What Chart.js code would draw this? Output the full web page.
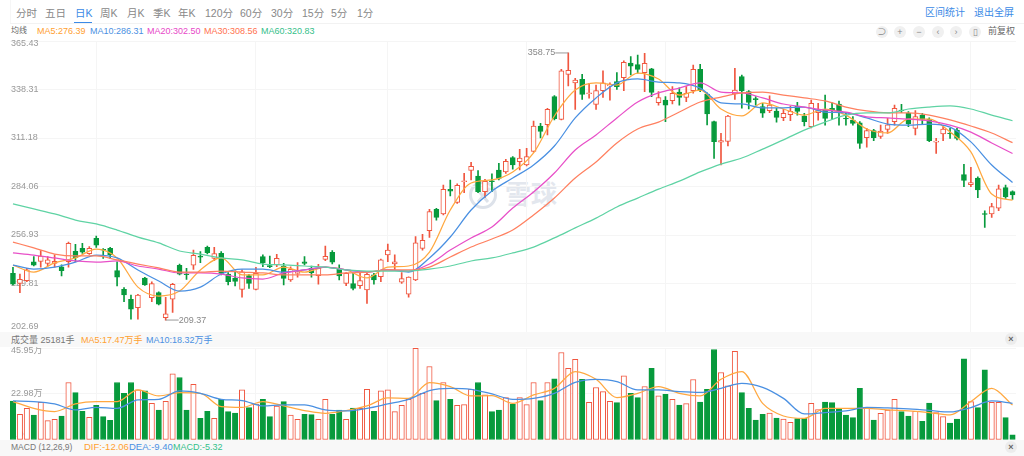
<!DOCTYPE html>
<html>
<head>
<meta charset="utf-8">
<script src="https://cdn.jsdelivr.net/npm/chart.js@4/dist/chart.umd.min.js"></script>
<style>
    html, body { margin: 0; padding: 0; background: #fff; }
    #page {
        position: relative;
        width: 1024px;
        height: 456px;
        overflow: hidden;
        font-family: 'Liberation Sans', 'Noto Sans CJK SC', sans-serif;
        font-size: 9px;
        color: #888;
    }
    #page span, #page div, #page canvas { position: absolute; }
    #page span { white-space: nowrap; line-height: 12px; }
    .tab { top: 7px; font-size: 10.5px; color: #888; }
    .link { top: 7px; font-size: 10px; color: #3b8ae6; }
    .row { top: 25px; }
    .strip { left: 0; width: 1024px; height: 15px; background: #f8f8f8; }
    .tool {
        top: 26px;
        width: 12px;
        height: 12px;
        border-radius: 6px;
        background: #f0f0f0;
        color: #888;
        text-align: center;
        font-size: 9px;
    }
    .close { left: 1005px; color: #666; background: #ececec; font-weight: bold; }
    #mark { left: 505px; top: 182px; font-size: 26px; line-height: 26px !important; font-weight: bold; color: #e3e7ee; }
    #logo { left: 468px; top: 180px; }
</style>
</head>
<body>
<div id="page">
    <span class="tab" style="left:16px">分时</span>
    <span class="tab" style="left:45px">五日</span>
    <span class="tab" style="left:75px;color:#3b8ae6">日K</span>
    <span class="tab" style="left:100px">周K</span>
    <span class="tab" style="left:127px">月K</span>
    <span class="tab" style="left:153px">季K</span>
    <span class="tab" style="left:178px">年K</span>
    <span class="tab" style="left:205px">120分</span>
    <span class="tab" style="left:240px">60分</span>
    <span class="tab" style="left:271px">30分</span>
    <span class="tab" style="left:302px">15分</span>
    <span class="tab" style="left:331px">5分</span>
    <span class="tab" style="left:357px">1分</span>
    <span class="link" style="left:925px">区间统计</span>
    <span class="link" style="left:974px">退出全屏</span>
    <div style="left:74px;top:22px;width:18px;height:1px;background:#3b8ae6"></div>
    <div style="left:10px;top:23px;width:1014px;height:1px;background:#f2f2f2"></div>
    <div style="left:10px;top:0;width:1px;height:23px;background:#f6f6f6"></div>

    <span class="row" style="left:11px;font-size:8px;color:#666">均线</span>
    <span class="row" style="left:37px;color:#ffa030">MA5:276.39</span>
    <span class="row" style="left:90px;color:#4a90e2">MA10:286.31</span>
    <span class="row" style="left:147px;color:#e748c8">MA20:302.50</span>
    <span class="row" style="left:204px;color:#ff7350">MA30:308.56</span>
    <span class="row" style="left:261px;color:#35c08a">MA60:320.83</span>

    <span class="tool" style="left:876px">⊃</span>
    <span class="tool" style="left:894px">+</span>
    <span class="tool" style="left:913px">−</span>
    <span class="tool" style="left:932px">‹</span>
    <span class="tool" style="left:950px">›</span>
    <span class="tool" style="left:969px">▯</span>
    <span class="row" style="left:988px;color:#666">前复权</span>

    <svg id="logo" style="position:absolute" width="32" height="32" viewBox="0 0 32 32">
        <circle cx="15" cy="15" r="12.5" fill="none" stroke="#dde2ea" stroke-width="3"/>
        <path d="M8 8 L20 22 M22 8 L10 22" fill="none" stroke="#dde2ea" stroke-width="3"/>
    </svg>
    <span id="mark">雪球</span>

    <canvas id="candles" width="1024" height="300" style="left:0;top:36px"></canvas>
    <canvas id="volumes" width="1024" height="101" style="left:0;top:343px"></canvas>

    <div class="strip" style="top:332px"></div>
    <span style="left:11px;top:334px;color:#777">成交量 25181手</span>
    <span style="left:81px;top:334px;color:#ffa030">MA5:17.47万手</span>
    <span style="left:146px;top:334px;color:#4a90e2">MA10:18.32万手</span>
    <span class="tool close" style="top:333px">×</span>

    <div class="strip" style="top:440px;height:16px"></div>
    <span style="left:11px;top:441px;color:#777;font-size:8.5px">MACD (12,26,9)</span>
    <span style="left:84px;top:441px;color:#ffa030;font-size:9.5px">DIF:-12.06</span>
    <span style="left:129px;top:441px;color:#4a90e2;font-size:9.5px">DEA:-9.40</span>
    <span style="left:173px;top:441px;color:#35c08a">MACD:-5.32</span>
    <span class="tool close" style="top:441px">×</span>
</div>

<script>
    const opens = [
        235.5, 229.9, 231.4, 242.0, 242.2, 241.1, 241.1, 239.2, 242.0, 247.8, 249.5, 246.5, 255.1, 248.9, 249.5,
        237.0, 226.5, 221.0, 216.3, 232.9, 221.9, 224.7, 210.7, 221.0, 240.0, 235.1, 240.0, 245.2, 250.0, 243.9,
        246.7, 235.1, 232.9, 226.5, 234.2, 226.5, 244.8, 239.8, 240.2, 239.6, 231.8, 235.5, 242.0, 238.3, 234.2,
        243.3, 247.2, 237.7, 229.9, 229.7, 228.6, 226.2, 234.6, 233.6, 245.8, 240.7, 230.5, 223.9, 231.8, 249.5,
        259.4, 271.3, 268.7, 282.5, 275.2, 286.8, 293.1, 289.9, 281.2, 287.3, 293.3, 292.2, 300.2, 297.9, 296.1,
        303.7, 317.9, 318.6, 334.3, 321.6, 346.8, 342.0, 344.0, 336.0, 330.0, 337.7, 340.3, 342.7, 344.9, 353.1,
        352.2, 347.7, 349.8, 331.0, 332.4, 332.1, 336.9, 333.9, 337.7, 349.6, 335.8, 320.3, 308.8, 309.3, 335.8,
        345.5, 337.1, 333.2, 328.7, 326.5, 326.3, 322.5, 324.2, 329.1, 323.5, 317.5, 325.3, 326.8, 327.8, 330.2,
        322.2, 321.2, 319.7, 311.4, 315.3, 312.1, 316.0, 320.3, 326.8, 325.0, 316.6, 324.0, 321.8, 308.9, 313.4,
        314.0, 315.6, 290.7, 285.1, 288.8, 268.9, 268.7, 272.0, 283.4, 281.2,
    ]
    const highs = [
        238.9, 235.1, 238.3, 244.8, 248.2, 244.8, 245.8, 240.2, 253.0, 251.7, 252.3, 250.4, 256.4, 249.3, 250.0,
        242.0, 227.5, 223.4, 223.7, 233.3, 230.8, 225.2, 222.1, 229.9, 240.7, 238.3, 248.5, 247.6, 250.8, 250.0,
        247.6, 235.9, 236.4, 237.4, 234.9, 238.9, 245.8, 245.2, 246.1, 241.1, 239.2, 241.5, 244.8, 239.6, 240.5,
        250.8, 248.2, 240.2, 235.9, 235.5, 235.5, 235.5, 235.5, 243.5, 251.9, 245.8, 235.9, 233.6, 256.0, 257.3,
        271.3, 271.9, 284.9, 287.7, 285.5, 291.4, 297.6, 292.9, 288.1, 291.1, 297.0, 299.3, 300.8, 304.9, 305.4,
        320.7, 319.4, 327.8, 334.9, 349.6, 358.75, 344.6, 346.8, 341.8, 340.8, 348.7, 342.1, 347.7, 354.4, 356.7,
        357.6, 358.5, 350.2, 337.1, 334.3, 339.9, 339.3, 339.9, 352.0, 352.4, 336.5, 320.7, 313.8, 323.9, 350.2,
        346.4, 337.7, 334.3, 330.6, 334.7, 327.8, 327.2, 329.1, 331.1, 325.0, 332.4, 330.6, 335.2, 330.9, 331.9,
        325.3, 323.1, 320.3, 316.6, 316.0, 318.4, 322.2, 329.6, 330.0, 325.9, 326.5, 325.0, 322.5, 311.0, 317.5,
        316.6, 316.6, 296.4, 294.8, 289.5, 270.5, 274.6, 284.9, 284.9, 281.7,
    ]
    const lows = [
        229.0, 224.7, 230.8, 239.6, 238.9, 239.6, 238.9, 234.0, 238.9, 242.0, 246.7, 246.1, 250.0, 243.9, 243.9,
        228.4, 219.6, 209.8, 209.8, 228.8, 219.6, 217.8, 209.37, 213.7, 234.6, 232.1, 237.7, 241.5, 246.3, 242.6,
        234.6, 229.0, 228.4, 222.1, 227.1, 226.2, 239.2, 238.7, 239.2, 229.0, 231.0, 233.3, 240.2, 233.3, 229.5,
        242.6, 240.7, 231.8, 228.6, 226.2, 227.1, 218.7, 229.5, 230.8, 242.0, 237.4, 229.9, 222.1, 231.4, 248.5,
        255.6, 265.3, 268.1, 278.8, 274.6, 280.6, 287.7, 280.6, 278.0, 281.2, 287.7, 291.4, 293.7, 293.3, 295.5,
        303.2, 311.2, 312.9, 321.3, 321.3, 340.3, 327.2, 332.8, 333.4, 327.2, 333.9, 332.4, 338.4, 337.7, 346.4,
        347.4, 337.1, 334.3, 329.6, 320.3, 330.2, 329.6, 331.5, 336.2, 337.1, 318.5, 299.8, 296.1, 306.7, 332.8,
        327.8, 327.4, 329.6, 322.7, 325.4, 320.0, 320.9, 320.9, 324.0, 317.9, 316.8, 321.2, 318.4, 321.6, 318.4,
        318.4, 318.4, 305.4, 306.0, 309.7, 311.0, 313.8, 318.4, 325.3, 317.5, 312.9, 319.0, 309.1, 302.6, 309.7,
        311.0, 310.1, 284.0, 284.0, 277.8, 261.2, 266.8, 270.5, 277.4, 276.9,
    ]
    const closes = [
        229.5, 232.1, 237.4, 240.0, 245.2, 243.0, 242.2, 237.0, 252.3, 244.3, 247.4, 249.5, 251.3, 248.5, 245.8,
        233.3, 223.4, 215.4, 223.4, 229.0, 229.7, 218.3, 212.8, 229.3, 235.1, 234.8, 245.6, 244.6, 247.1, 246.5,
        235.5, 230.8, 231.0, 236.4, 229.9, 235.5, 241.5, 239.2, 243.9, 232.7, 237.7, 236.1, 241.1, 235.9, 238.3,
        245.0, 241.7, 234.0, 235.5, 227.1, 231.4, 234.9, 231.8, 243.0, 248.5, 242.0, 232.5, 233.4, 252.6, 254.0,
        270.0, 266.8, 282.5, 281.5, 284.7, 287.3, 295.3, 281.2, 287.0, 286.8, 288.6, 298.1, 296.1, 300.0, 300.8,
        317.9, 314.9, 327.2, 322.0, 348.8, 349.0, 343.6, 335.6, 336.5, 337.7, 342.1, 341.0, 339.9, 353.5, 351.3,
        349.6, 353.0, 336.7, 333.8, 329.6, 336.2, 333.9, 336.2, 349.6, 338.0, 324.6, 309.1, 309.7, 323.5, 338.0,
        337.5, 331.1, 332.6, 325.0, 329.6, 322.7, 325.0, 326.1, 326.1, 320.3, 330.6, 327.0, 322.2, 327.0, 325.9,
        321.8, 319.4, 308.2, 315.3, 311.4, 315.1, 318.6, 327.8, 326.5, 319.0, 323.1, 321.6, 309.7, 309.5, 316.2,
        313.6, 311.0, 287.5, 286.2, 282.1, 268.5, 272.8, 282.8, 278.2, 279.3,
    ]
    // volume in 万手
    const volumes = [
        19.5, 12.8, 15.8, 12.5, 18.8, 9.7, 10.3, 12.0, 28.7, 23.7, 14.3, 11.3, 17.3, 11.7, 9.8,
        28.7, 23.3, 28.7, 25.0, 24.5, 18.3, 15.0, 19.3, 33.0, 31.2, 15.0, 27.8, 10.8, 14.3, 10.8,
        20.3, 14.2, 13.5, 25.0, 16.2, 18.0, 20.3, 11.7, 17.0, 19.2, 12.5, 10.3, 12.8, 12.7, 10.3,
        20.3, 12.8, 15.0, 10.3, 16.0, 15.8, 25.3, 14.3, 24.5, 25.0, 14.2, 17.3, 20.3, 45.8, 23.3,
        36.7, 19.7, 28.7, 20.3, 17.3, 17.7, 25.3, 28.7, 22.5, 14.2, 15.0, 21.2, 17.8, 21.2, 17.7,
        28.7, 19.7, 28.7, 30.5, 43.7, 35.8, 40.3, 30.3, 18.8, 26.2, 24.2, 19.3, 18.7, 32.0, 23.3,
        21.2, 26.7, 35.8, 22.0, 22.8, 20.3, 17.5, 18.2, 30.2, 19.0, 25.3, 45.2, 33.7, 27.0, 44.3,
        23.7, 15.8, 10.0, 12.8, 13.5, 11.0, 10.5, 8.8, 10.7, 10.8, 18.3, 15.2, 19.0, 18.7, 15.7,
        12.5, 11.2, 25.8, 16.3, 10.0, 13.3, 15.0, 20.3, 14.2, 12.0, 14.3, 9.3, 18.5, 13.7, 11.7,
        8.5, 10.5, 40.5, 19.2, 16.2, 35.0, 18.8, 18.8, 11.2, 2.52,
    ]

    const maStep = 3
    const ma5 = [
        240.1, 236.2, 241.3, 244.1, 249.1, 244.1, 227.8, 222.8, 225.6, 237.4, 244.1, 234.6, 234.6, 239.0, 236.2, 239.0, 237.4,
        232.9, 239.0, 239.6, 247.4, 270.9, 286.0, 287.7, 292.2, 302.8, 323.5, 338.0, 342.0, 340.8, 347.5, 344.2, 335.2,
        338.0, 327.4, 323.5, 330.8, 327.4, 324.0, 327.4, 324.0, 316.2, 314.0, 321.8, 321.8, 314.5, 303.4, 279.9, 276.39,
    ]
    const ma10 = [
        240.1, 237.9, 239.0, 241.8, 245.7, 244.1, 237.4, 231.2, 225.6, 227.8, 235.1, 237.9, 237.9, 236.2, 237.4, 239.0, 237.4,
        236.2, 237.4, 236.2, 244.1, 255.8, 270.9, 281.5, 288.8, 296.1, 306.7, 322.4, 333.6, 342.0, 344.2, 342.5, 342.0,
        339.1, 330.8, 330.2, 328.0, 328.0, 328.5, 325.7, 325.2, 322.4, 319.0, 318.4, 319.0, 317.3, 309.0, 296.1, 286.31,
    ]
    const ma20 = [
        246.9, 245.7, 244.1, 242.4, 241.8, 242.4, 239.6, 237.9, 235.7, 235.7, 235.1, 232.9, 232.3, 235.7, 237.4, 239.0, 237.4,
        236.2, 237.4, 236.8, 240.7, 248.5, 255.3, 261.4, 272.0, 281.0, 291.6, 304.5, 312.9, 322.4, 331.3, 336.4, 339.1,
        342.0, 336.9, 336.4, 333.6, 330.2, 328.5, 326.8, 325.7, 323.0, 322.4, 321.8, 320.7, 318.4, 314.5, 308.4, 302.50,
    ]
    const ma30 = [
        253.0, 249.7, 246.3, 245.2, 245.2, 243.0, 240.7, 238.5, 236.2, 236.2, 236.8, 236.2, 235.7, 234.6, 234.6, 234.6, 235.7,
        236.2, 237.4, 237.4, 239.0, 244.6, 250.2, 254.7, 259.7, 268.1, 277.6, 288.8, 297.8, 308.4, 316.2, 320.1, 325.7,
        331.3, 334.1, 336.4, 336.9, 335.2, 333.6, 331.9, 328.5, 326.3, 325.2, 325.2, 324.0, 321.3, 317.9, 314.0, 308.56,
    ]
    const ma60 = [
        274.3, 271.5, 268.7, 265.3, 263.1, 259.7, 255.8, 252.5, 248.0, 246.3, 244.1, 243.0, 240.7, 240.2, 239.6, 239.0, 237.4,
        236.8, 236.8, 236.8, 237.9, 239.6, 242.4, 244.1, 246.9, 250.2, 255.3, 260.9, 266.4, 272.6, 277.6, 282.6, 287.1,
        292.2, 296.6, 300.0, 305.0, 310.1, 315.6, 320.1, 324.0, 325.2, 325.2, 327.4, 328.5, 329.1, 327.4, 324.0, 320.83,
    ]
    const volMa5 = [
        19.2, 15.8, 14.2, 18.0, 19.2, 19.2, 25.0, 22.0, 23.7, 23.3, 16.7, 16.3, 19.2, 17.0, 14.7, 13.3, 14.7,
        17.0, 21.0, 20.8, 28.7, 26.7, 22.0, 22.2, 18.3, 22.5, 25.8, 34.2, 30.3, 21.2, 23.3, 26.7, 23.3,
        22.0, 30.3, 34.2, 18.3, 12.0, 10.8, 15.8, 15.8, 15.8, 15.0, 14.5, 13.7, 12.5, 19.2, 25.8, 17.47,
    ]
    const volMa10 = [
        19.5, 19.2, 18.0, 15.0, 16.3, 15.8, 20.0, 20.3, 24.5, 23.3, 20.3, 19.7, 17.0, 17.5, 17.5, 15.0, 14.5,
        15.8, 18.0, 20.3, 24.7, 25.8, 25.3, 23.0, 20.3, 20.8, 23.3, 28.8, 30.3, 29.2, 25.0, 25.0, 24.2,
        23.8, 25.8, 28.3, 26.3, 20.8, 13.0, 13.7, 14.5, 16.3, 16.0, 15.5, 14.8, 14.0, 16.2, 19.5, 18.32,
    ]

    const priceTicks = [365.43, 338.31, 311.18, 284.06, 256.93, 229.81, 202.69]
    const volumeTicks = [45.95, 22.98, 0]
    const volumeTickLabels = ['45.95万', '22.98万', '0.00']
    const monthStarts = [12, 35, 54, 74, 94, 115, 138]
    const highMark = { index: 80, value: 358.75, side: -1 }
    const lowMark = { index: 22, value: 209.37, side: 1 }

    const days = opens.map((_, i) => String(i))
    const isUp = closes.map((c, i) => c >= opens[i])

    const RED = '#f0563f'
    const GREEN = '#079a3c'
    const GRID = '#f5f5f5'
    const LABEL = '#999'

    const sampled = series => series.map((v, k) => ({ x: days[k * maStep], y: v }))
    const lineSet = (label, series, color) => ({
        type: 'line',
        label,
        data: sampled(series),
        borderColor: color,
        borderWidth: 1.25,
        pointRadius: 0,
        cubicInterpolationMode: 'monotone',
        order: 1,
    })

    const tickText = (ctx, scale, ticks, texts) => {
        ctx.save()
        ctx.font = "9px 'Liberation Sans', 'Noto Sans CJK SC', sans-serif"
        ctx.fillStyle = LABEL
        ctx.textBaseline = 'middle'
        ticks.forEach((tick, i) => {
            // first and last labels sit inside the plot
            const nudge = i === 0 ? 3 : i === ticks.length - 1 ? -5 : 0
            ctx.fillText(texts[i], 11, scale.getPixelForValue(tick) + nudge)
        })
        ctx.restore()
    }

    const scalesFor = (min, max, ticks) => ({
        x: {
            type: 'category',
            offset: true,
            afterFit: scale => { scale.height = 0 },
            grid: {
                offset: false,
                drawTicks: false,
                color: c => monthStarts.includes(c.index) ? GRID : 'transparent',
            },
            border: { display: false },
            ticks: { display: false, autoSkip: false },
        },
        y: {
            min,
            max,
            afterFit: scale => { scale.width = 0 },
            afterBuildTicks: scale => { scale.ticks = ticks.map(value => ({ value })) },
            grid: { drawTicks: false, color: GRID },
            border: { display: false },
            ticks: { display: false },
        },
    })

    const baseOptions = {
        responsive: false,
        animation: false,
        devicePixelRatio: 1,
        plugins: { legend: { display: false }, tooltip: { enabled: false } },
    }

    const extremeMark = (chart, mark) => {
        const { ctx, scales } = chart
        const x = scales.x.getPixelForValue(mark.index)
        const y = scales.y.getPixelForValue(mark.value)
        const end = x + mark.side * 13
        ctx.save()
        ctx.strokeStyle = LABEL
        ctx.lineWidth = 1
        ctx.beginPath()
        ctx.moveTo(x, y)
        ctx.lineTo(end, y)
        ctx.stroke()
        ctx.font = "9px 'Liberation Sans', sans-serif"
        ctx.fillStyle = '#888'
        ctx.textBaseline = 'middle'
        ctx.textAlign = mark.side < 0 ? 'right' : 'left'
        ctx.fillText(mark.value.toFixed(2), end, y)
        ctx.restore()
    }

    new Chart(document.getElementById('candles'), {
        type: 'bar',
        data: {
            labels: days,
            datasets: [
                lineSet('MA60', ma60, '#5fd3a4'),
                lineSet('MA30', ma30, '#ff8060'),
                lineSet('MA20', ma20, '#e850c8'),
                lineSet('MA10', ma10, '#4a90e2'),
                lineSet('MA5', ma5, '#ffa840'),
                {
                    label: 'body',
                    data: opens.map((o, i) => [o, closes[i]]),
                    grouped: false,
                    barThickness: 5,
                    borderWidth: 1,
                    borderSkipped: false,
                    borderColor: isUp.map(up => up ? RED : GREEN),
                    backgroundColor: isUp.map(up => up ? '#fff' : GREEN),
                    order: 2,
                },
                {
                    label: 'wick',
                    data: lows.map((l, i) => [l, highs[i]]),
                    grouped: false,
                    barThickness: 1,
                    backgroundColor: isUp.map(up => up ? RED : GREEN),
                    order: 3,
                },
            ],
        },
        options: {
            ...baseOptions,
            layout: { padding: { left: 9.5, right: 8, top: 5, bottom: 4 } },
            scales: scalesFor(202.69, 365.43, priceTicks),
        },
        plugins: [{
            id: 'priceLabels',
            beforeDatasetsDraw: chart => tickText(chart.ctx, chart.scales.y, priceTicks, priceTicks.map(t => t.toFixed(2))),
            afterDatasetsDraw: chart => {
                extremeMark(chart, highMark)
                extremeMark(chart, lowMark)
            },
        }],
    })

    new Chart(document.getElementById('volumes'), {
        type: 'bar',
        data: {
            labels: days,
            datasets: [
                lineSet('MA10', volMa10, '#4a90e2'),
                lineSet('MA5', volMa5, '#ffa840'),
                {
                    label: 'volume',
                    data: volumes,
                    grouped: false,
                    barThickness: 5.4,
                    borderWidth: 1,
                    borderSkipped: false,
                    borderColor: isUp.map(up => up ? RED : GREEN),
                    backgroundColor: isUp.map(up => up ? '#fff' : GREEN),
                    order: 2,
                },
            ],
        },
        options: {
            ...baseOptions,
            layout: { padding: { left: 9.5, right: 8, top: 5, bottom: 4 } },
            scales: scalesFor(0, 45.95, volumeTicks),
        },
        plugins: [{
            id: 'volumeLabels',
            beforeDatasetsDraw: chart => tickText(chart.ctx, chart.scales.y, volumeTicks, volumeTickLabels),
        }],
    })
</script>
</body>
</html>
